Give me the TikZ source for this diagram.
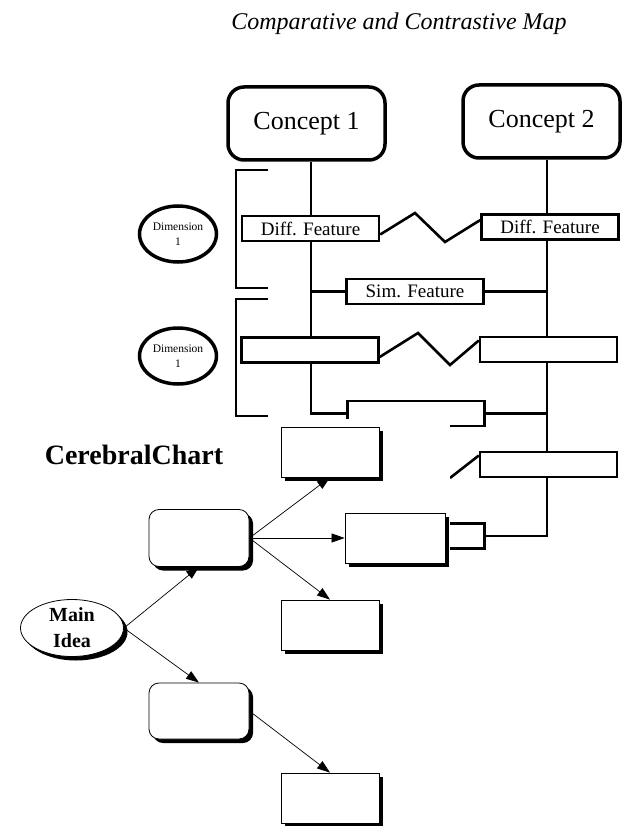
\documentclass[tikz,border=0pt]{standalone}
\usepackage{fontspec}
\setmainfont{Liberation Serif}
\usetikzlibrary{arrows.meta,shapes.geometric,shadows,backgrounds}

\begin{document}
\begin{tikzpicture}[x=1pt,y=-1pt,>={Triangle[length=13pt,width=9pt]},
    map line/.style={line width=2.6pt},
    concept/.style={rectangle,rounded corners=16pt,draw,line width=3.5pt,fill=white,minimum width=157pt,minimum height=73pt,inner sep=0pt,font=\fontsize{26}{28}\selectfont},
    feature/.style={rectangle,draw,line width=2.4pt,fill=white,minimum width=137pt,minimum height=25pt,inner sep=0pt,font=\fontsize{19}{20}\selectfont},
    dim node/.style={ellipse,draw,line width=3.5pt,fill=white,minimum width=77pt,minimum height=56pt,inner sep=0pt,align=center,font=\fontsize{11.5}{15}\selectfont},
    chart box/.style={rectangle,draw,line width=0.8pt,fill=white,minimum width=98pt,minimum height=50pt,drop shadow={shadow xshift=4pt,shadow yshift=-4pt,fill=black,opacity=1}},
    chart round/.style={chart box,rounded corners=10pt,minimum width=100pt,minimum height=57pt},
    idea node/.style={chart box,ellipse,minimum width=103pt,minimum height=57pt,inner sep=0pt,align=center,font=\fontsize{20}{26}\selectfont\bfseries,drop shadow={shadow xshift=3pt,shadow yshift=-3pt,fill=black,opacity=1}}]

  \useasboundingbox (0,0) rectangle (625,826);

  % comparative and contrastive map
  \node (title) at (399,24) {\fontsize{24}{28}\selectfont\itshape Comparative and Contrastive Map};

  \node[concept] (c1) at (306.5,123.5) {Concept 1};
  \node[concept] (c2) at (541.5,121.5) {Concept 2};
  \coordinate (t1) at (311,0);
  \coordinate (t2) at (547,0);

  \node[feature] (d1a) at (310.5,228.5) {Diff. Feature};
  \node[feature] (d1b) at (550,227) {Diff. Feature};
  \node[feature] (s1) at (415,291.5) {Sim. Feature};
  \node[feature] (d2a) at (310,350) {};
  \node[feature] (d2b) at (548.5,349.5) {};
  \node[feature] (s2) at (416,413.5) {};
  \node[feature] (d3b) at (548.5,464.5) {};
  \node[feature] (s3) at (416,536) {};
  \coordinate (z3) at (450,478);

  \node[dim node] (dim1) at (178,234) {Dimension\\1};
  \node[dim node] (dim2) at (178,356) {Dimension\\1};

  \begin{pgfonlayer}{background}
    \draw[map line] (c1.south -| t1) -- (t1 |- s2.west) -- (s2.west);
    \draw[map line] (c2.south -| t2) -- (t2 |- s3.east) -- (s3.east);
    \draw[map line] (t1 |- s1.west) -- (s1.west) (s1.east) -- (t2 |- s1.east);
    \draw[map line] (s2.east) -- (t2 |- s2.east);
    \draw[map line] ([yshift=-6pt]d1a.east) -- (415,213) -- (445,242) -- ([yshift=7pt]d1b.west);
    \draw[map line] ([yshift=-7pt]d2a.east) -- (418,333) -- (450,365) -- ([yshift=9pt]d2b.west);
    \draw[map line] (z3) -- ([yshift=9pt]d3b.west);
    % brackets
    \draw[map line] (268,170) -- (236,170) -- (236,288) -- (268,288);
    \draw[map line] (268,299) -- (236,299) -- (236,416) -- (268,416);
  \end{pgfonlayer}

  \fill[white] (0,419) rectangle (450,826);

  % cerebral chart
  \node[font=\fontsize{28}{30}\selectfont\bfseries] (chart) at (134,455) {CerebralChart};
  \node[idea node] (idea) at (72,628) {Main\\Idea};
  \node[chart round] (b1) at (199,538) {};
  \node[chart round,minimum height=56pt] (b2) at (199,711) {};
  \node[chart box] (r1) at (330,452) {};
  \node[chart box,minimum width=100pt] (r2) at (395,538) {};
  \node[chart box] (r3) at (330,625) {};
  \node[chart box] (r4) at (330,798) {};

  \path[->,line width=0.7pt]
        (idea.east) edge (b1.south)
        (idea.east) edge (b2.north)
        (b1.east) edge (r1.south)
        (b1.east) edge (r2.west)
        (b1.east) edge (r3.north)
        (b2.east) edge (r4.north)
        ;

\end{tikzpicture}
\end{document}
